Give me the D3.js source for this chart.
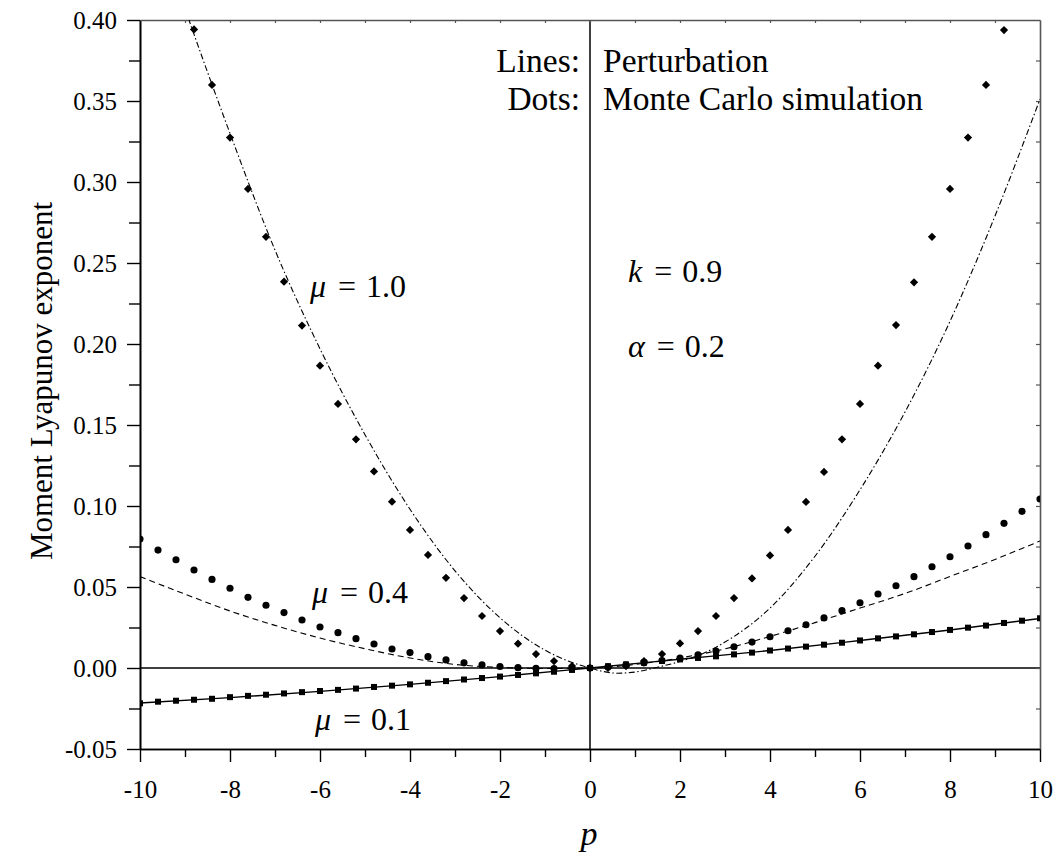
<!DOCTYPE html>
<html>
<head>
<meta charset="utf-8">
<script src="https://cdn.jsdelivr.net/npm/d3@7/dist/d3.min.js"></script>
<style>
  html, body { margin: 0; padding: 0; background: #fff; }
  svg { display: block; }
  text { font-family: "Liberation Serif", Tinos, "DejaVu Serif", "Noto Serif", serif; fill: #000; }
</style>
</head>
<body>
<svg id="chart" width="1056" height="858"></svg>
<script>
// ---------- data ----------
const dotP = [-10,-9.6,-9.2,-8.8,-8.4,-8,-7.6,-7.2,-6.8,-6.4,-6,-5.6,-5.2,-4.8,-4.4,-4,-3.6,-3.2,-2.8,-2.4,-2,-1.6,-1.2,-0.8,-0.4,0,
              0.4,0.8,1.2,1.6,2,2.4,2.8,3.2,3.6,4,4.4,4.8,5.2,5.6,6,6.4,6.8,7.2,7.6,8,8.4,8.8,9.2,9.6,10];

// Monte Carlo, mu = 0.1 (squares)
const mc01 = [-0.0218,-0.0208,-0.0202,-0.0196,-0.0190,-0.0180,-0.0172,-0.0165,-0.0157,-0.0149,-0.0142,-0.0135,-0.0127,-0.0117,-0.0109,-0.0101,-0.0091,-0.0081,-0.0071,-0.0062,-0.0053,-0.0043,-0.0033,-0.0023,-0.0012,0,
              0.0011,0.0022,0.0033,0.0043,0.0053,0.0062,0.0072,0.0084,0.0095,0.0108,0.0120,0.0132,0.0144,0.0156,0.0170,0.0183,0.0195,0.0208,0.0222,0.0235,0.0249,0.0262,0.0278,0.0292,0.0307];

// Monte Carlo, mu = 0.4 (circles)
const mc04 = [0.0796,0.0728,0.0668,0.0605,0.0547,0.0492,0.0436,0.0387,0.0342,0.0296,0.0253,0.0218,0.0181,0.0148,0.0117,0.0095,0.0070,0.0050,0.0032,0.0019,0.0009,0.0002,-0.0002,-0.0003,-0.0002,0,
              0.0008,0.0019,0.0032,0.0046,0.0062,0.0082,0.0105,0.0131,0.0160,0.0193,0.0230,0.0267,0.0309,0.0354,0.0403,0.0457,0.0508,0.0564,0.0625,0.0687,0.0753,0.0823,0.0893,0.0967,0.1043];

// Monte Carlo, mu = 1.0 (diamonds), visible part
const mc10P = [-8.8,-8.4,-8,-7.6,-7.2,-6.8,-6.4,-6,-5.6,-5.2,-4.8,-4.4,-4,-3.6,-3.2,-2.8,-2.4,-2,-1.6,-1.2,-0.8,-0.4,0,
               0.4,0.8,1.2,1.6,2,2.4,2.8,3.2,3.6,4,4.4,4.8,5.2,5.6,6,6.4,6.8,7.2,7.6,8,8.4,8.8,9.2];
const mc10 = [0.3942,0.3599,0.3274,0.2957,0.2662,0.2385,0.2114,0.1866,0.1630,0.1412,0.1213,0.1027,0.0852,0.0698,0.0557,0.0432,0.0321,0.0228,0.0150,0.0086,0.0043,0.0012,0,
              0.0000,0.0012,0.0043,0.0086,0.0152,0.0228,0.0321,0.0432,0.0553,0.0695,0.0852,0.1025,0.1210,0.1412,0.1630,0.1866,0.2117,0.2381,0.2662,0.2957,0.3274,0.3599,0.3938];

// Perturbation lines
const pert01P = [-10,-8,-6,-4,-2,0,2,4,6,8,10];
const pert01  = [-0.0216,-0.0183,-0.0144,-0.0101,-0.0053,0,0.0054,0.0108,0.0170,0.0235,0.0306];

const pert04P = [-10,-9,-8,-7,-6,-5,-4,-3,-2,-1,0,1,2,3,4,5,6,7,8,9,10];
const pert04  = [0.0564,0.0456,0.0352,0.0263,0.0185,0.0119,0.0062,0.0022,0.0004,-0.0003,0,0.0022,0.0062,0.0118,0.0195,0.0280,0.0370,0.0460,0.0565,0.0670,0.0784];

const pert10P = [-9.2,-9,-8,-7,-6,-5,-4,-3,-2,-1,-0.5,0,0.3,0.6,1,1.5,2,2.5,3,4,5,6,7,8,9,10];
const pert10  = [0.423,0.407,0.330,0.258,0.197,0.144,0.098,0.060,0.031,0.011,0.0045,0,-0.0022,-0.0032,-0.0025,0.0005,0.0040,0.0088,0.0160,0.0370,0.0690,0.1100,0.1580,0.2140,0.2790,0.3512];

// ticks
const xMajor = [-10,-8,-6,-4,-2,0,2,4,6,8,10];
const xMajorLabels = ["-10","-8","-6","-4","-2","0","2","4","6","8","10"];
const xMinor = [-9,-7,-5,-3,-1,1,3,5,7,9];
const xTop = [-9,-8,-7,-6,-5,-4,-3,-2,-1,0,1,2,3,4,5,6,7,8,9];
const yMajor = [-0.05,0,0.05,0.10,0.15,0.20,0.25,0.30,0.35,0.40];
const yMajorLabels = ["-0.05","0.00","0.05","0.10","0.15","0.20","0.25","0.30","0.35","0.40"];
const yMinor = [-0.025,0.025,0.075,0.125,0.175,0.225,0.275,0.325,0.375];
const yRight = [-0.025,0,0.025,0.05,0.075,0.10,0.125,0.15,0.175,0.20,0.225,0.25,0.275,0.30,0.325,0.35,0.375];

// ---------- drawing ----------
const FONT = '"Liberation Serif", Tinos, "DejaVu Serif", "Noto Serif", serif';
const svg = d3.select("#chart");
const L = 140, R = 1040, T = 20, B = 749;
const x = d3.scaleLinear().domain([-10, 10]).range([L, R]);
const y = d3.scaleLinear().domain([-0.05, 0.40]).range([B, T]);

svg.append("defs").append("clipPath").attr("id", "clip")
  .append("rect").attr("x", L).attr("y", T).attr("width", R - L).attr("height", B - T);

// zero lines
svg.append("line").attr("x1", L).attr("x2", R).attr("y1", y(0)).attr("y2", y(0))
  .attr("stroke", "#000").attr("stroke-width", 1.5);
svg.append("line").attr("x1", x(0)).attr("x2", x(0)).attr("y1", T).attr("y2", B)
  .attr("stroke", "#000").attr("stroke-width", 1.5);

// axes
const gL = svg.append("g").attr("transform", `translate(${L},0)`)
  .call(d3.axisLeft(y).tickValues(yMajor).tickSize(13).tickSizeOuter(0)
    .tickFormat((d, i) => yMajorLabels[i]));
const gLm = svg.append("g").attr("transform", `translate(${L},0)`)
  .call(d3.axisLeft(y).tickValues(yMinor).tickSize(11).tickSizeOuter(0).tickFormat(""));
const gB = svg.append("g").attr("transform", `translate(0,${B})`)
  .call(d3.axisBottom(x).tickValues(xMajor).tickSize(13).tickSizeOuter(0)
    .tickFormat((d, i) => xMajorLabels[i]));
const gBm = svg.append("g").attr("transform", `translate(0,${B})`)
  .call(d3.axisBottom(x).tickValues(xMinor).tickSize(8).tickSizeOuter(0).tickFormat(""));
const gT = svg.append("g").attr("transform", `translate(0,${T})`)
  .call(d3.axisTop(x).tickValues(xTop).tickSize(-3).tickSizeOuter(0).tickFormat(""));
const gR = svg.append("g").attr("transform", `translate(${R},0)`)
  .call(d3.axisRight(y).tickValues(yRight).tickSize(-4).tickSizeOuter(0).tickFormat(""));

[gL, gLm, gB, gBm, gT, gR].forEach(g => g.attr("font-family", FONT));
[gL, gLm, gB, gBm].forEach(g => {
  g.select(".domain").attr("stroke", "#000").attr("stroke-width", 1.6);
  g.selectAll(".tick line").attr("stroke", "#000").attr("stroke-width", 1.4);
});
[gT, gR].forEach(g => {
  g.select(".domain").attr("stroke", "#555").attr("stroke-width", 1.6);
  g.selectAll(".tick line").attr("stroke", "#555").attr("stroke-width", 1.2);
});
gL.selectAll(".tick text").attr("x", -23).attr("dy", "0.32em")
  .attr("font-family", FONT).attr("font-size", 25).attr("fill", "#000");
gB.selectAll(".tick text").attr("y", 31).attr("dy", "0.71em")
  .attr("font-family", FONT).attr("font-size", 25).attr("fill", "#000");

// lines
const plot = svg.append("g").attr("clip-path", "url(#clip)");
const lineGen = d3.line().x(d => x(d[0])).y(d => y(d[1])).curve(d3.curveMonotoneX);

plot.append("path").datum(pert01P.map((p, i) => [p, pert01[i]]))
  .attr("d", lineGen).attr("fill", "none").attr("stroke", "#000").attr("stroke-width", 1.4);
plot.append("path").datum(pert04P.map((p, i) => [p, pert04[i]]))
  .attr("d", lineGen).attr("fill", "none").attr("stroke", "#000").attr("stroke-width", 1.1)
  .attr("stroke-dasharray", "6,4");
plot.append("path").datum(pert10P.map((p, i) => [p, pert10[i]]))
  .attr("d", lineGen).attr("fill", "none").attr("stroke", "#000").attr("stroke-width", 1.1)
  .attr("stroke-dasharray", "6,2.5,1.5,2.5");

// dots
const sq = d3.symbol().type(d3.symbolSquare).size(36);
const ci = d3.symbol().type(d3.symbolCircle).size(40);
const di = d3.symbol().type(d3.symbolSquare).size(34);

plot.append("g").selectAll("path").data(dotP.map((p, i) => [p, mc01[i]])).join("path")
  .attr("transform", d => `translate(${x(d[0])},${y(d[1])})`).attr("d", sq).attr("fill", "#000");
plot.append("g").selectAll("path").data(dotP.map((p, i) => [p, mc04[i]])).join("path")
  .attr("transform", d => `translate(${x(d[0])},${y(d[1])})`).attr("d", ci).attr("fill", "#000");
plot.append("g").selectAll("path").data(mc10P.map((p, i) => [p, mc10[i]])).join("path")
  .attr("transform", d => `translate(${x(d[0])},${y(d[1])}) rotate(45)`)
  .attr("d", di).attr("fill", "#000");

// annotations
const fs = 33.5;
function txt(xp, yp, s, anchor, size, italic) {
  return svg.append("text").attr("x", xp).attr("y", yp)
    .attr("text-anchor", anchor || "start")
    .attr("font-family", FONT).attr("font-size", size || fs)
    .attr("font-style", italic ? "italic" : "normal").text(s);
}
txt(580, 72, "Lines:", "end");
txt(603, 72, "Perturbation");
txt(580, 110, "Dots:", "end");
txt(603, 110, "Monte Carlo simulation");

function mathLabel(xp, yp, sym, val) {
  const t = svg.append("text").attr("x", xp).attr("y", yp)
    .attr("font-family", FONT).attr("font-size", 32);
  t.append("tspan").attr("font-style", "italic").text(sym);
  t.append("tspan").attr("dx", 4).text(" = ");
  t.append("tspan").attr("dx", 2).text(val);
}
mathLabel(310, 297, "μ", "1.0");
mathLabel(312, 603, "μ", "0.4");
mathLabel(315, 730, "μ", "0.1");
mathLabel(628, 282, "k", "0.9");
mathLabel(628, 357, "α", "0.2");

// axis titles
svg.append("text").attr("transform", "translate(52,381) rotate(-90)")
  .attr("text-anchor", "middle").attr("font-family", FONT).attr("font-size", 31)
  .text("Moment Lyapunov exponent");
txt(589, 845, "p", "middle", 34, true);
</script>
</body>
</html>
